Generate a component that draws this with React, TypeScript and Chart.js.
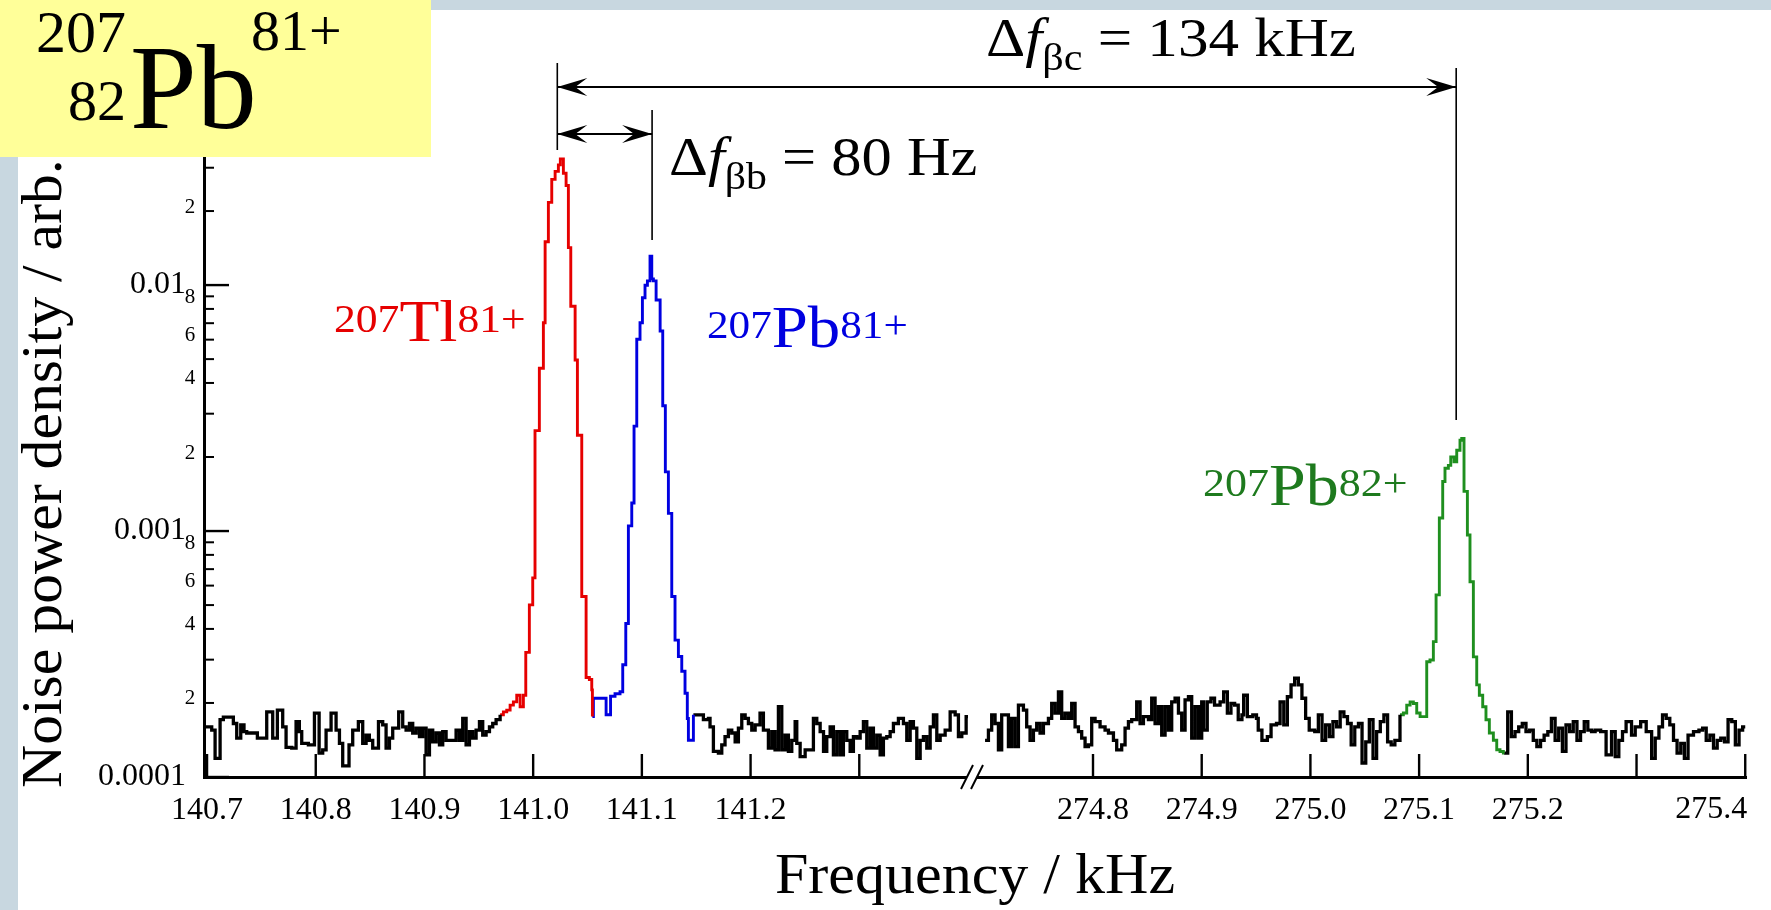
import React, { useEffect, useRef } from 'react';
import { Chart, registerables } from 'chart.js';

Chart.register(...registerables);

const FONT = '"Liberation Serif", "Times New Roman", serif';

// ---------- axes (kHz, two windows with a break) ----------
const lowRange = [140.6972, 141.4037];
const highRange = [274.6887, 275.4007];
const lowTicks = [140.7, 140.8, 140.9, 141.0, 141.1, 141.2, 141.3];
const lowTickLabels = ['140.7', '140.8', '140.9', '141.0', '141.1', '141.2', ''];
const highTicks = [274.8, 274.9, 275.0, 275.1, 275.2, 275.3, 275.4];
const highTickLabels = ['274.8', '274.9', '275.0', '275.1', '275.2', '', '275.4'];

const yMin = 1e-4;
const yMax = 0.04;
const yMajorTicks = [1e-4, 1e-3, 1e-2];
const yMajorLabels = ['0.0001', '0.001', '0.01'];
const yMinorTicks = [2e-4, 3e-4, 4e-4, 5e-4, 6e-4, 7e-4, 8e-4, 9e-4, 2e-3, 3e-3, 4e-3, 5e-3, 6e-3, 7e-3, 8e-3, 9e-3, 2e-2, 3e-2, 4e-2];
const yMinorLabelTicks = [2e-4, 4e-4, 6e-4, 8e-4, 2e-3, 4e-3, 6e-3, 8e-3, 2e-2];
const yMinorLabels = ['2', '4', '6', '8', '2', '4', '6', '8', '2'];

// ---------- spectrum (frequency kHz, noise power density arb. units) ----------
const bgLowAFreq = [140.698, 140.7043, 140.7074, 140.712, 140.715, 140.7242, 140.7273, 140.731, 140.734, 140.7365, 140.7463, 140.7549, 140.7604, 140.7647, 140.7696, 140.7727, 140.7779, 140.7819, 140.7849, 140.7871, 140.7932, 140.7988, 140.8031, 140.8064, 140.8095, 140.8141, 140.8187, 140.8218, 140.8248, 140.8306, 140.834, 140.8392, 140.8432, 140.8463, 140.8493, 140.8524, 140.8577, 140.8616, 140.8647, 140.8678, 140.8708, 140.8763, 140.88, 140.8831, 140.8862, 140.8892, 140.8923, 140.8954, 140.8984, 140.9015, 140.9046, 140.9076, 140.9107, 140.9138, 140.9168, 140.9199, 140.9291, 140.9322, 140.9352, 140.9383, 140.9414, 140.9444, 140.9475, 140.9506, 140.9536, 140.9567, 140.9598, 140.9628, 140.9659];
const bgLowAPower = [1.60e-4, 1.55e-4, 1.19e-4, 1.71e-4, 1.75e-4, 1.65e-4, 1.44e-4, 1.63e-4, 1.53e-4, 1.51e-4, 1.44e-4, 1.84e-4, 1.44e-4, 1.87e-4, 1.60e-4, 1.32e-4, 1.31e-4, 1.68e-4, 1.53e-4, 1.37e-4, 1.35e-4, 1.82e-4, 1.25e-4, 1.29e-4, 1.55e-4, 1.82e-4, 1.55e-4, 1.37e-4, 1.11e-4, 1.35e-4, 1.55e-4, 1.68e-4, 1.37e-4, 1.48e-4, 1.41e-4, 1.31e-4, 1.68e-4, 1.63e-4, 1.31e-4, 1.44e-4, 1.58e-4, 1.84e-4, 1.60e-4, 1.55e-4, 1.65e-4, 1.51e-4, 1.58e-4, 1.46e-4, 1.58e-4, 1.23e-4, 1.55e-4, 1.39e-4, 1.51e-4, 1.35e-4, 1.53e-4, 1.41e-4, 1.55e-4, 1.41e-4, 1.73e-4, 1.35e-4, 1.53e-4, 1.44e-4, 1.55e-4, 1.68e-4, 1.48e-4, 1.53e-4, 1.60e-4, 1.65e-4, 1.71e-4];

const tlFreq = [140.9696, 140.9726, 140.9757, 140.9788, 140.9818, 140.9849, 140.988, 140.991, 140.9932, 140.9965, 140.9996, 141.0017, 141.0057, 141.0094, 141.011, 141.014, 141.0171, 141.0202, 141.0232, 141.025, 141.0278, 141.0303, 141.0324, 141.0346, 141.0386, 141.0407, 141.0447, 141.0487, 141.0517, 141.0539];
const tlPower = [1.79e-4, 1.84e-4, 1.87e-4, 1.96e-4, 2.02e-4, 2.15e-4, 1.93e-4, 2.15e-4, 3.21e-4, 5.01e-4, 6.45e-4, 2.56e-3, 4.59e-3, 7.03e-3, 1.50e-2, 2.17e-2, 2.69e-2, 2.90e-2, 3.08e-2, 3.26e-2, 2.85e-2, 2.54e-2, 1.42e-2, 8.2e-3, 4.96e-3, 2.45e-3, 5.42e-4, 2.54e-4, 2.49e-4, 2.26e-4];

const pb81Freq = [141.0545, 141.0554, 141.0671, 141.0712, 141.0753, 141.0799, 141.0824, 141.0852, 141.0876, 141.0907, 141.0928, 141.0953, 141.0983, 141.1005, 141.1029, 141.1051, 141.1075, 141.1091, 141.1106, 141.1131, 141.1168, 141.1192, 141.1216, 141.1244, 141.1275, 141.1305, 141.1336, 141.1367, 141.1397, 141.1418, 141.1428];
const pb81Power = [1.76e-4, 2.09e-4, 1.79e-4, 2.13e-4, 2.18e-4, 2.22e-4, 2.86e-4, 4.21e-4, 1.05e-3, 1.30e-3, 2.67e-3, 6.02e-3, 7.03e-3, 8.88e-3, 9.98e-3, 1.04e-2, 1.31e-2, 1.06e-2, 1.04e-2, 8.7e-3, 6.51e-3, 3.23e-3, 1.74e-3, 1.18e-3, 5.42e-4, 3.60e-4, 3.09e-4, 2.69e-4, 2.19e-4, 1.73e-4, 1.41e-4];

const bgLowBFreq = [141.1474, 141.1566, 141.1612, 141.1627, 141.1658, 141.1704, 141.1735, 141.1765, 141.1796, 141.1827, 141.1858, 141.1888, 141.1919, 141.195, 141.198, 141.2011, 141.2042, 141.2087, 141.2118, 141.2164, 141.2195, 141.2225, 141.2256, 141.2287, 141.2318, 141.2348, 141.2379, 141.241, 141.2425, 141.2456, 141.2502, 141.2578, 141.2609, 141.264, 141.2671, 141.2701, 141.2732, 141.2762, 141.2793, 141.2824, 141.2854, 141.2885, 141.2916, 141.2946, 141.2977, 141.3008, 141.3038, 141.3069, 141.31, 141.313, 141.3161, 141.3192, 141.3222, 141.3253, 141.3284, 141.3314, 141.336, 141.3406, 141.3437, 141.3468, 141.3498, 141.3529, 141.356, 141.359, 141.3621, 141.3652, 141.3682, 141.3713, 141.3744, 141.379, 141.3836, 141.3882, 141.3912, 141.3943, 141.3983, 141.4];
const bgLowBPower = [1.79e-4, 1.71e-4, 1.73e-4, 1.60e-4, 1.27e-4, 1.25e-4, 1.35e-4, 1.46e-4, 1.55e-4, 1.51e-4, 1.39e-4, 1.58e-4, 1.79e-4, 1.73e-4, 1.65e-4, 1.55e-4, 1.63e-4, 1.82e-4, 1.55e-4, 1.31e-4, 1.53e-4, 1.29e-4, 1.93e-4, 1.29e-4, 1.48e-4, 1.27e-4, 1.41e-4, 1.68e-4, 1.37e-4, 1.21e-4, 1.29e-4, 1.73e-4, 1.65e-4, 1.53e-4, 1.27e-4, 1.46e-4, 1.60e-4, 1.23e-4, 1.53e-4, 1.23e-4, 1.53e-4, 1.41e-4, 1.27e-4, 1.46e-4, 1.44e-4, 1.53e-4, 1.68e-4, 1.31e-4, 1.58e-4, 1.31e-4, 1.48e-4, 1.23e-4, 1.44e-4, 1.46e-4, 1.53e-4, 1.65e-4, 1.73e-4, 1.65e-4, 1.41e-4, 1.68e-4, 1.58e-4, 1.19e-4, 1.41e-4, 1.46e-4, 1.31e-4, 1.60e-4, 1.79e-4, 1.41e-4, 1.48e-4, 1.55e-4, 1.84e-4, 1.79e-4, 1.46e-4, 1.51e-4, 1.76e-4, 1.76e-4];

const bgHighAFreq = [274.7007, 274.7038, 274.7068, 274.7099, 274.713, 274.716, 274.7222, 274.7252, 274.7283, 274.7314, 274.736, 274.739, 274.7421, 274.7452, 274.7482, 274.7513, 274.7544, 274.759, 274.762, 274.7651, 274.7682, 274.7712, 274.7743, 274.7774, 274.7804, 274.7835, 274.7866, 274.7896, 274.7927, 274.7958, 274.7988, 274.8019, 274.8065, 274.8111, 274.8142, 274.8188, 274.8218, 274.8264, 274.8295, 274.8326, 274.8356, 274.8402, 274.8433, 274.8464, 274.851, 274.854, 274.8571, 274.8602, 274.8632, 274.8663, 274.8694, 274.8724, 274.8755, 274.8786, 274.8816, 274.8847, 274.8878, 274.8908, 274.8939, 274.897, 274.9, 274.9018, 274.9051, 274.9085, 274.9118, 274.9169, 274.9202, 274.9236, 274.9269, 274.9303, 274.9336, 274.937, 274.9386, 274.942, 274.947, 274.9504, 274.952, 274.9554, 274.9604, 274.9638, 274.9688, 274.9721, 274.9755, 274.9788, 274.9822, 274.9855, 274.9889, 274.9922, 274.9956, 274.9989, 275.004, 275.0073, 275.0107, 275.014, 275.0174, 275.0207, 275.0241, 275.0274, 275.0308, 275.0341, 275.0375, 275.0408, 275.0442, 275.0475, 275.0509, 275.0542, 275.0576, 275.0609, 275.0643, 275.0676, 275.071, 275.0743, 275.0777];
const bgHighAPower = [1.41e-4, 1.55e-4, 1.79e-4, 1.65e-4, 1.29e-4, 1.79e-4, 1.33e-4, 1.73e-4, 1.33e-4, 1.96e-4, 1.87e-4, 1.60e-4, 1.41e-4, 1.55e-4, 1.65e-4, 1.51e-4, 1.65e-4, 1.73e-4, 1.99e-4, 1.82e-4, 2.22e-4, 1.73e-4, 1.82e-4, 1.73e-4, 1.99e-4, 1.60e-4, 1.53e-4, 1.44e-4, 1.33e-4, 1.35e-4, 1.73e-4, 1.68e-4, 1.60e-4, 1.55e-4, 1.51e-4, 1.41e-4, 1.29e-4, 1.35e-4, 1.58e-4, 1.68e-4, 1.71e-4, 2.02e-4, 1.65e-4, 1.76e-4, 1.71e-4, 2.09e-4, 1.65e-4, 1.93e-4, 1.48e-4, 1.93e-4, 1.55e-4, 2.02e-4, 2.09e-4, 1.82e-4, 1.55e-4, 2.06e-4, 2.12e-4, 1.44e-4, 1.93e-4, 1.44e-4, 2.02e-4, 1.55e-4, 2.02e-4, 2.09e-4, 1.96e-4, 2.02e-4, 2.22e-4, 1.82e-4, 1.99e-4, 1.96e-4, 1.71e-4, 1.79e-4, 2.15e-4, 1.76e-4, 1.79e-4, 1.73e-4, 1.55e-4, 1.41e-4, 1.46e-4, 1.63e-4, 1.65e-4, 2.02e-4, 1.63e-4, 2.12e-4, 2.37e-4, 2.52e-4, 2.37e-4, 2.09e-4, 1.73e-4, 1.55e-4, 1.53e-4, 1.79e-4, 1.41e-4, 1.63e-4, 1.46e-4, 1.68e-4, 1.60e-4, 1.84e-4, 1.76e-4, 1.65e-4, 1.35e-4, 1.60e-4, 1.65e-4, 1.14e-4, 1.39e-4, 1.71e-4, 1.19e-4, 1.53e-4, 1.68e-4, 1.79e-4, 1.39e-4, 1.35e-4, 1.41e-4];

const pb82Freq = [275.0824, 275.0855, 275.0886, 275.0917, 275.0947, 275.0978, 275.1009, 275.107, 275.11, 275.1131, 275.1156, 275.1186, 275.1217, 275.1238, 275.1269, 275.1291, 275.1321, 275.1346, 275.1376, 275.1392, 275.1413, 275.1444, 275.1468, 275.1499, 275.153, 275.1554, 275.1585, 275.1615, 275.1646, 275.1683, 275.1714, 275.1744, 275.1775];
const pb82Power = [1.79e-4, 1.82e-4, 1.96e-4, 2.02e-4, 1.99e-4, 1.82e-4, 1.76e-4, 2.94e-4, 2.99e-4, 3.55e-4, 5.5e-4, 1.13e-3, 1.59e-3, 1.80e-3, 1.85e-3, 2.00e-3, 1.91e-3, 2.13e-3, 2.34e-3, 2.38e-3, 1.45e-3, 9.63e-4, 6.22e-4, 3.08e-4, 2.37e-4, 2.15e-4, 1.93e-4, 1.71e-4, 1.51e-4, 1.41e-4, 1.29e-4, 1.27e-4, 1.25e-4];

const bgHighBFreq = [275.1782, 275.1815, 275.1849, 275.1882, 275.1916, 275.1949, 275.1983, 275.2016, 275.205, 275.2083, 275.2117, 275.215, 275.2184, 275.2217, 275.2251, 275.2284, 275.2318, 275.2351, 275.2385, 275.2418, 275.2452, 275.2485, 275.2519, 275.2552, 275.2586, 275.2619, 275.267, 275.272, 275.277, 275.2804, 275.2837, 275.2871, 275.2904, 275.2954, 275.2988, 275.3038, 275.3089, 275.3139, 275.3172, 275.3206, 275.3239, 275.3273, 275.3306, 275.334, 275.3373, 275.3407, 275.344, 275.3474, 275.3524, 275.3574, 275.3608, 275.3641, 275.3675, 275.3708, 275.3742, 275.3775, 275.3809, 275.3842, 275.3876, 275.3909, 275.3943, 275.3976, 275.4];
const bgHighBPower = [1.25e-4, 1.84e-4, 1.46e-4, 1.53e-4, 1.60e-4, 1.65e-4, 1.53e-4, 1.55e-4, 1.41e-4, 1.33e-4, 1.41e-4, 1.48e-4, 1.53e-4, 1.73e-4, 1.41e-4, 1.58e-4, 1.27e-4, 1.63e-4, 1.53e-4, 1.68e-4, 1.41e-4, 1.53e-4, 1.68e-4, 1.55e-4, 1.53e-4, 1.55e-4, 1.53e-4, 1.23e-4, 1.53e-4, 1.21e-4, 1.41e-4, 1.53e-4, 1.68e-4, 1.48e-4, 1.60e-4, 1.68e-4, 1.53e-4, 1.19e-4, 1.44e-4, 1.60e-4, 1.79e-4, 1.73e-4, 1.63e-4, 1.41e-4, 1.25e-4, 1.37e-4, 1.19e-4, 1.48e-4, 1.53e-4, 1.55e-4, 1.58e-4, 1.41e-4, 1.48e-4, 1.31e-4, 1.41e-4, 1.44e-4, 1.39e-4, 1.71e-4, 1.68e-4, 1.35e-4, 1.55e-4, 1.60e-4, 1.60e-4];

// peak marker frequencies used by the Δf annotations
const tlMarkerFreq = 141.0222;
const pb81MarkerFreq = 141.1094;
const pb82MarkerFreq = 275.1341;

const RED = '#e60000';
const BLUE = '#0000e0';
const GREEN = '#1f8f1f';
const GREEN_TEXT = '#1e7a1e';
const BLACK = '#000000';

type Run = { text: string; size: number; italic?: boolean; dy?: number };

function fontStr(size: number, italic?: boolean) {
  return `${italic ? 'italic ' : ''}${size}px ${FONT}`;
}

function drawRuns(ctx: CanvasRenderingContext2D, runs: Run[], x: number, y: number, opts: any = {}) {
  const sx = opts.sx ?? 1;
  const widths: number[] = [];
  let total = 0;
  for (const r of runs) {
    ctx.font = fontStr(r.size, r.italic);
    const w = ctx.measureText(r.text).width;
    widths.push(w);
    total += w;
  }
  ctx.save();
  ctx.translate(x, y);
  if (opts.rotate) ctx.rotate(opts.rotate);
  ctx.scale(sx, 1);
  ctx.fillStyle = opts.color || BLACK;
  ctx.textAlign = 'left';
  ctx.textBaseline = 'alphabetic';
  let cx = opts.align === 'center' ? -total / 2 : opts.align === 'right' ? -total : 0;
  runs.forEach((r, i) => {
    ctx.font = fontStr(r.size, r.italic);
    ctx.fillText(r.text, cx, r.dy || 0);
    cx += widths[i];
  });
  ctx.restore();
}

function seg(ctx: CanvasRenderingContext2D, x1: number, y1: number, x2: number, y2: number) {
  ctx.beginPath();
  ctx.moveTo(x1, y1);
  ctx.lineTo(x2, y2);
  ctx.stroke();
}

function arrowHead(ctx: CanvasRenderingContext2D, x: number, y: number, dir: number) {
  const L = 30;
  const W = 9;
  ctx.beginPath();
  ctx.moveTo(x, y);
  ctx.lineTo(x - dir * L, y - W);
  ctx.lineTo(x - dir * L * 0.6, y);
  ctx.lineTo(x - dir * L, y + W);
  ctx.closePath();
  ctx.fill();
}

const decorPlugin = {
  id: 'decor',
  beforeDraw(chart: any) {
    const ctx = chart.ctx;
    ctx.save();
    ctx.fillStyle = '#c8d7e0';
    ctx.fillRect(0, 0, chart.width, chart.height);
    ctx.fillStyle = '#ffffff';
    ctx.fillRect(18, 10, chart.width - 18, chart.height - 10);
    ctx.restore();
  },
  afterDraw(chart: any) {
    const ctx: CanvasRenderingContext2D = chart.ctx;
    const xL = chart.scales.xL;
    const xR = chart.scales.xR;
    const yS = chart.scales.y;
    const area = chart.chartArea;
    ctx.save();
    ctx.strokeStyle = BLACK;
    ctx.fillStyle = BLACK;

    // inward x ticks
    ctx.lineWidth = 2.4;
    lowTicks.forEach((v) => {
      const px = xL.getPixelForValue(v);
      seg(ctx, px, area.bottom, px, area.bottom - 23);
    });
    highTicks.forEach((v) => {
      const px = xR.getPixelForValue(v);
      seg(ctx, px, area.bottom, px, area.bottom - 23);
    });

    // the last label sits flush with the axis end
    const lastIdx = highTicks.length - 1;
    ctx.font = fontStr(32);
    ctx.textAlign = 'right';
    ctx.textBaseline = 'middle';
    ctx.fillText(highTickLabels[lastIdx], xR.getPixelForValue(highTicks[lastIdx]) + 2, area.bottom + 33);

    // y ticks (inward) and labels
    ctx.lineWidth = 2.4;
    yMajorTicks.forEach((v) => {
      const py = yS.getPixelForValue(v);
      seg(ctx, area.left, py, area.left + 25, py);
    });
    ctx.lineWidth = 2;
    yMinorTicks.forEach((v) => {
      const py = yS.getPixelForValue(v);
      seg(ctx, area.left, py, area.left + 10, py);
    });
    ctx.textBaseline = 'middle';
    ctx.textAlign = 'right';
    ctx.font = fontStr(32);
    yMajorTicks.forEach((v, i) => {
      ctx.fillText(yMajorLabels[i], area.left - 18, yS.getPixelForValue(v));
    });
    ctx.textAlign = 'center';
    ctx.font = fontStr(21);
    yMinorLabelTicks.forEach((v, i) => {
      const lab = yMinorLabels[i];
      const off = lab === '8' ? -11 : -4;
      ctx.fillText(lab, area.left - 14, yS.getPixelForValue(v) + off);
    });

    // axis break marks
    const bx = xL.right;
    ctx.fillStyle = '#ffffff';
    ctx.beginPath();
    ctx.moveTo(bx - 11, area.bottom + 12);
    ctx.lineTo(bx + 1, area.bottom - 12);
    ctx.lineTo(bx + 11, area.bottom - 12);
    ctx.lineTo(bx - 1, area.bottom + 12);
    ctx.closePath();
    ctx.fill();
    ctx.fillStyle = BLACK;
    ctx.lineWidth = 2;
    seg(ctx, bx - 11, area.bottom + 12, bx + 1, area.bottom - 12);
    seg(ctx, bx - 1, area.bottom + 12, bx + 11, area.bottom - 12);

    // Δf annotations
    const xTl = xL.getPixelForValue(tlMarkerFreq);
    const xPb81 = xL.getPixelForValue(pb81MarkerFreq);
    const xPb82 = xR.getPixelForValue(pb82MarkerFreq);
    ctx.lineWidth = 1.6;
    seg(ctx, xTl, 63, xTl, 150);
    seg(ctx, xPb81, 110, xPb81, 240);
    seg(ctx, xPb82, 68, xPb82, 420);
    ctx.lineWidth = 2;
    seg(ctx, xTl, 87, xPb82, 87);
    arrowHead(ctx, xTl, 87, -1);
    arrowHead(ctx, xPb82, 87, 1);
    seg(ctx, xTl, 134, xPb81, 134);
    arrowHead(ctx, xTl, 134, -1);
    arrowHead(ctx, xPb81, 134, 1);

    drawRuns(ctx, [
      { text: 'Δ', size: 55 },
      { text: 'f', size: 55, italic: true },
      { text: 'βc', size: 38, dy: 14 },
      { text: ' = 134 kHz', size: 55 },
    ], 986, 56, { sx: 1.11 });
    drawRuns(ctx, [
      { text: 'Δ', size: 55 },
      { text: 'f', size: 55, italic: true },
      { text: 'βb', size: 38, dy: 14 },
      { text: ' = 80 Hz', size: 55 },
    ], 669, 175, { sx: 1.1 });

    // ion labels
    drawRuns(ctx, [
      { text: '207', size: 40, dy: -9 },
      { text: 'Tl', size: 60 },
      { text: '81+', size: 40, dy: -9 },
    ], 334, 341, { sx: 1.09, color: RED });
    drawRuns(ctx, [
      { text: '207', size: 40, dy: -9 },
      { text: 'Pb', size: 60 },
      { text: '81+', size: 40, dy: -9 },
    ], 707, 347, { sx: 1.08, color: BLUE });
    drawRuns(ctx, [
      { text: '207', size: 40, dy: -9 },
      { text: 'Pb', size: 60 },
      { text: '82+', size: 40, dy: -9 },
    ], 1203, 505, { sx: 1.1, color: GREEN_TEXT });

    // axis titles
    drawRuns(ctx, [{ text: 'Frequency / kHz', size: 58 }], 975, 893, { sx: 1.035, align: 'center' });
    drawRuns(ctx, [{ text: 'Noise power density / arb. units', size: 58 }], 61, 788, { sx: 1.03, rotate: -Math.PI / 2 });

    // nuclide box
    ctx.fillStyle = '#ffff99';
    ctx.fillRect(0, 0, 431, 157);
    drawRuns(ctx, [{ text: '207', size: 60 }], 126, 52, { align: 'right' });
    drawRuns(ctx, [{ text: '82', size: 58 }], 126, 120, { align: 'right' });
    drawRuns(ctx, [{ text: 'Pb', size: 120 }], 130, 128, {});
    drawRuns(ctx, [{ text: '81+', size: 58 }], 251, 50, {});

    ctx.restore();
  },
};

function points(f: number[], p: number[]) {
  const n = Math.min(f.length, p.length);
  const out: { x: number; y: number }[] = [];
  for (let i = 0; i < n; i++) out.push({ x: f[i], y: p[i] });
  return out;
}

const segments = [
  { f: bgLowAFreq, p: bgLowAPower, color: BLACK, axis: 'xL', width: 3.3 },
  { f: tlFreq, p: tlPower, color: RED, axis: 'xL', width: 2.9 },
  { f: pb81Freq, p: pb81Power, color: BLUE, axis: 'xL', width: 2.9 },
  { f: bgLowBFreq, p: bgLowBPower, color: BLACK, axis: 'xL', width: 3.3 },
  { f: bgHighAFreq, p: bgHighAPower, color: BLACK, axis: 'xR', width: 3.3 },
  { f: pb82Freq, p: pb82Power, color: GREEN, axis: 'xR', width: 2.9 },
  { f: bgHighBFreq, p: bgHighBPower, color: BLACK, axis: 'xR', width: 3.3 },
];

function xAxis(range: number[], ticks: number[], labels: string[], skipLast: boolean) {
  return {
    type: 'linear',
    axis: 'x',
    position: 'bottom',
    stack: 'freq',
    stackWeight: range[1] - range[0],
    min: range[0],
    max: range[1],
    grid: { display: true, drawOnChartArea: false, drawTicks: false },
    border: { display: true, color: BLACK, width: 3 },
    ticks: {
      display: true,
      autoSkip: false,
      maxRotation: 0,
      padding: 14,
      color: BLACK,
      font: { family: FONT, size: 32 },
      callback: (_v: any, i: number) => (skipLast && i === labels.length - 1 ? '' : labels[i] ?? ''),
    },
    afterBuildTicks: (scale: any) => {
      scale.ticks = ticks.map((v) => ({ value: v }));
    },
    afterFit: (scale: any) => {
      scale.height = 133;
      scale.paddingLeft = 0;
      scale.paddingRight = 0;
    },
  };
}

export default function App() {
  const canvasRef = useRef<HTMLCanvasElement | null>(null);

  useEffect(() => {
    const canvas = canvasRef.current;
    if (!canvas) return;
    const datasets = segments.map((s, i) => {
      const data = points(s.f, s.p);
      const next = segments[i + 1];
      if (next && next.axis === s.axis) data.push({ x: next.f[0], y: next.p[0] });
      return {
        data,
        borderColor: s.color,
        backgroundColor: s.color,
        borderWidth: s.width,
        pointRadius: 0,
        stepped: true,
        fill: false,
        tension: 0,
        xAxisID: s.axis,
        yAxisID: 'y',
      };
    });

    const chart = new Chart(canvas, {
      type: 'line',
      data: { datasets } as any,
      options: {
        animation: false,
        responsive: false,
        devicePixelRatio: 1,
        layout: { padding: { top: 137, left: 0, right: 25, bottom: 0 } },
        plugins: { legend: { display: false }, tooltip: { enabled: false }, title: { display: false } },
        events: [],
        scales: {
          xL: xAxis(lowRange, lowTicks, lowTickLabels, false),
          xR: xAxis(highRange, highTicks, highTickLabels, true),
          y: {
            type: 'logarithmic',
            position: 'left',
            min: yMin,
            max: yMax,
            grid: { display: true, drawOnChartArea: false, drawTicks: false },
            border: { display: true, color: BLACK, width: 3 },
            ticks: { display: false },
            afterFit: (scale: any) => {
              scale.width = 204;
              scale.paddingTop = 0;
              scale.paddingBottom = 0;
            },
          },
        } as any,
      },
      plugins: [decorPlugin],
    } as any);

    return () => {
      chart.destroy();
    };
  }, []);

  return (
    <div style={{ position: 'absolute', left: 0, top: 0, width: 1771, height: 910, overflow: 'hidden' }}>
      <canvas ref={canvasRef} width={1771} height={910} style={{ display: 'block' }} />
    </div>
  );
}
